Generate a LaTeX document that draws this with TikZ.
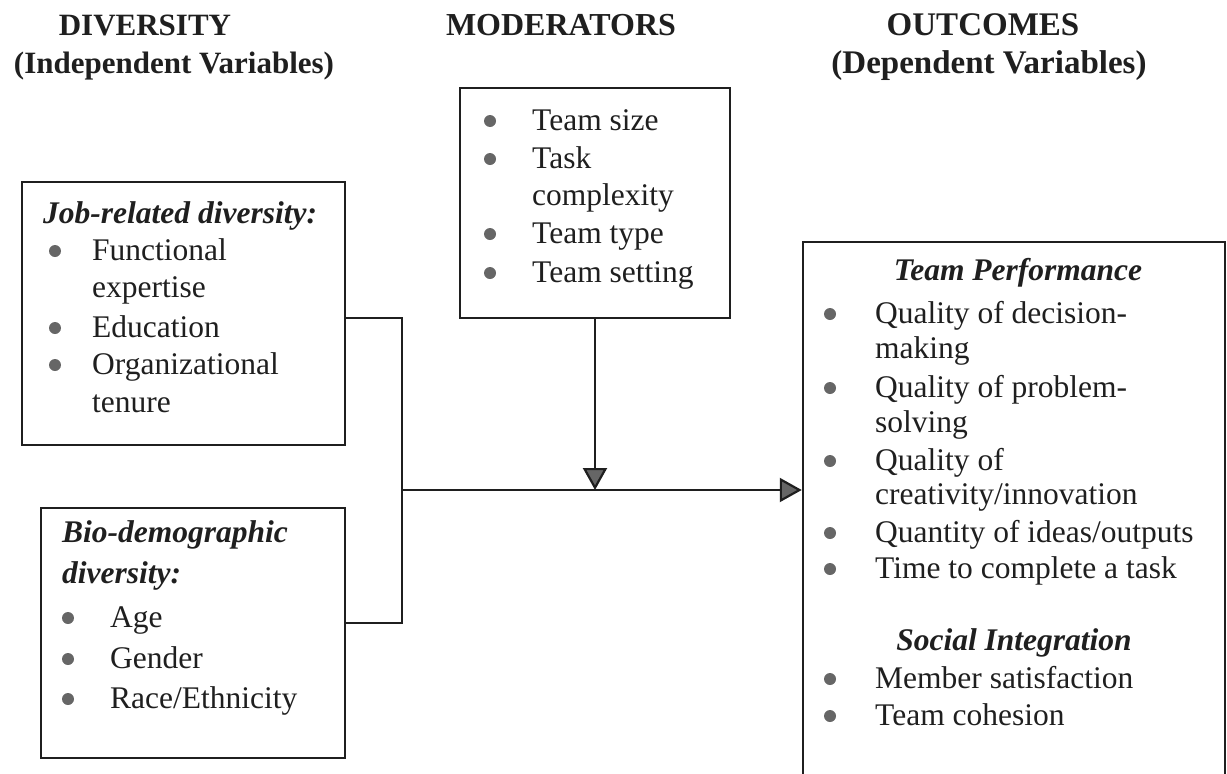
\documentclass[tikz,border=0pt]{standalone}
\usepackage{fontspec}
\setmainfont{Liberation Serif}
\usetikzlibrary{arrows.meta}
\definecolor{ink}{gray}{0.12}
\definecolor{bulc}{gray}{0.4}
\newcommand\bitem[5]{%
  \fill[bulc] (#2,#3-9) circle (6);
  \node[txt] (#1) at (#4,#3) {#5};}
\begin{document}
\begin{tikzpicture}[x=1pt,y=-1pt,
  box/.style={draw=ink, line width=2.5pt, inner sep=0pt, anchor=center},
  txt/.style={anchor=base west, inner sep=0pt, text=ink, font=\fontsize{31.5}{38}\selectfont},
  sub/.style={anchor=base west, inner sep=0pt, text=ink, font=\bfseries\itshape\fontsize{31.5}{38}\selectfont},
  hd/.style={anchor=base, inner sep=0pt, text=ink, font=\bfseries\fontsize{31}{37}\selectfont},
  hdr/.style={anchor=base, inner sep=0pt, text=ink, font=\bfseries\fontsize{33}{39}\selectfont},
  conn/.style={draw=ink, line width=2.2pt},
  tip/.style={-{Triangle[length=22pt,width=24pt,fill=bulc]}}]
\useasboundingbox (0,0) rectangle (1227,774);
\clip (0,0) rectangle (1227,774);

% headings
\node[hd] (h1a) at (145,35) {DIVERSITY};
\node[hd] (h1b) at (174,73) {(Independent Variables)};
\node[hd, font=\bfseries\fontsize{32}{38}\selectfont] (h2) at (561,35) {MODERATORS};
\node[hdr] (h3a) at (983,35) {OUTCOMES};
\node[hdr] (h3b) at (989,73) {(Dependent Variables)};

% boxes
\node[box, minimum width=323, minimum height=263] (job) at (183.5,313.5) {};
\node[box, minimum width=304, minimum height=250] (bio) at (193,633) {};
\node[box, minimum width=270, minimum height=230] (mod) at (595,203) {};
\node[box, minimum width=422, minimum height=548] (out) at (1014,516) {};

% job-related
\node[sub] (jt) at (43,223) {Job-related diversity:};
\bitem{j1}{55}{260}{92}{Functional}
\node[txt] (j1b) at (92,297) {expertise};
\bitem{j2}{55}{337}{92}{Education}
\bitem{j3}{55}{374}{92}{Organizational}
\node[txt] (j3b) at (92,412) {tenure};

% bio-demographic
\node[sub] (bt1) at (62,542) {Bio-demographic};
\node[sub] (bt2) at (62,583) {diversity:};
\bitem{b1}{68}{627}{110}{Age}
\bitem{b2}{68}{668}{110}{Gender}
\bitem{b3}{68}{708}{110}{Race/Ethnicity}

% moderators
\bitem{m1}{490}{130}{532}{Team size}
\bitem{m2}{490}{168}{532}{Task}
\node[txt] (m2b) at (532,205) {complexity};
\bitem{m3}{490}{243}{532}{Team type}
\bitem{m4}{490}{282}{532}{Team setting}

% outcomes
\node[sub, anchor=base] (ot1) at (1018,280) {Team Performance};
\bitem{o1}{830}{323}{875}{Quality of decision-}
\node[txt] (o1b) at (875,358) {making};
\bitem{o2}{830}{397}{875}{Quality of problem-}
\node[txt] (o2b) at (875,432) {solving};
\bitem{o3}{830}{470}{875}{Quality of}
\node[txt] (o3b) at (875,504) {creativity/innovation};
\bitem{o4}{830}{542}{875}{Quantity of ideas/outputs}
\bitem{o5}{830}{578}{875}{Time to complete a task}
\node[sub, anchor=base] (ot2) at (1014,650) {Social Integration};
\bitem{o6}{830}{688}{875}{Member satisfaction}
\bitem{o7}{830}{725}{875}{Team cohesion}

% connectors
\coordinate (jn) at (402,490);
\draw[conn] ([yshift=-4.5pt]job.east) -| (jn);
\draw[conn] ([yshift=10pt]bio.east) -| (jn);
\draw[conn, tip] (jn) -- (out.west |- jn);
\draw[conn, tip] (mod.south) -- (mod.south |- jn);
\end{tikzpicture}
\end{document}
